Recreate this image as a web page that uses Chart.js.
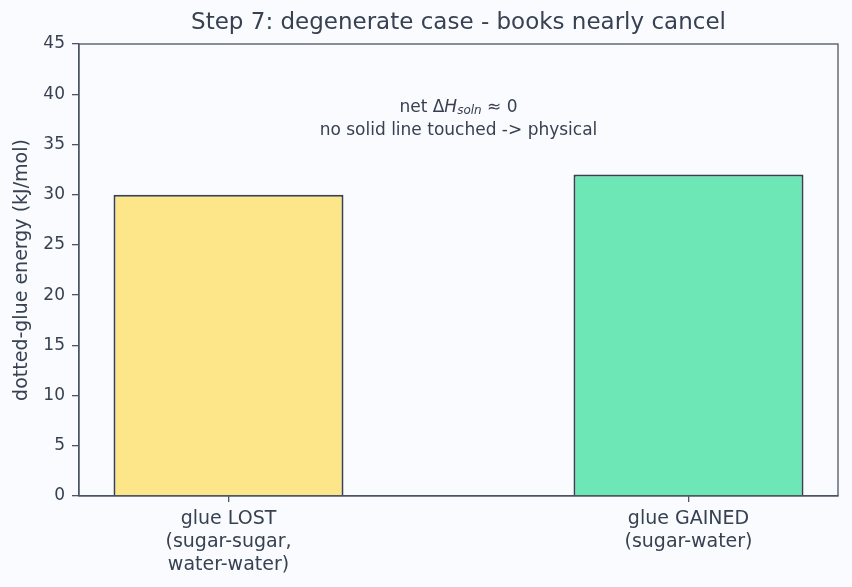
<!DOCTYPE html>
<html>
<head>
<meta charset="utf-8">
<script src="https://cdn.jsdelivr.net/npm/chart.js@4"></script>
<style>
  body { margin: 0; background: #fafbfe; }
  #wrap { width: 852px; height: 587px; }
</style>
</head>
<body>
<div id="wrap"><canvas id="chart_step7" width="852" height="587"></canvas></div>
<script>
// data
var categories = [["glue LOST", "(sugar-sugar,", "water-water)"], ["glue GAINED", "(sugar-water)"]];
var positions = [0, 1];
var energies = [30, 32];
var barColors = ["#fde68a", "#6ee7b7"];
var yTicks = [0, 5, 10, 15, 20, 25, 30, 35, 40, 45];
var titleText = "Step 7: degenerate case - books nearly cancel";

var textColor = "#374151";
var axisColor = "#4b5563";
var fontFamily = "'DejaVu Sans', sans-serif";

// frame round the plot, title over the plot, and the little note in the middle
var framePlugin = {
    id: "frameAndNote",
    afterDraw: function (chart) {
        var ctx = chart.ctx;
        var a = chart.chartArea;
        ctx.save();
        ctx.strokeStyle = axisColor;
        ctx.lineWidth = 1.3;
        ctx.strokeRect(a.left, a.top, a.right - a.left, a.bottom - a.top);

        var cx = (a.left + a.right) / 2;
        ctx.fillStyle = textColor;
        ctx.textBaseline = "middle";

        ctx.font = "23px " + fontFamily;
        ctx.textAlign = "center";
        ctx.fillText(titleText, cx, a.top - 21);

        var y1 = chart.scales.y.getPixelForValue(38.7);
        var y2 = chart.scales.y.getPixelForValue(36.4);

        // net ΔH_soln ≈ 0
        var parts = [
            { t: "net \u0394", f: "17px " + fontFamily, dy: 0 },
            { t: "H", f: "italic 17px " + fontFamily, dy: 0 },
            { t: "soln", f: "italic 12px " + fontFamily, dy: 4 },
            { t: " \u2248 0", f: "17px " + fontFamily, dy: 0 }
        ];
        var total = 0;
        parts.forEach(function (p) { ctx.font = p.f; p.w = ctx.measureText(p.t).width; total += p.w; });
        var x = cx - total / 2;
        ctx.textAlign = "left";
        parts.forEach(function (p) { ctx.font = p.f; ctx.fillText(p.t, x, y1 + p.dy); x += p.w; });

        ctx.font = "17px " + fontFamily;
        ctx.textAlign = "center";
        ctx.fillText("no solid line touched -> physical", cx, y2);
        ctx.restore();
    }
};

var ctxStep = document.getElementById("chart_step7").getContext("2d");
var chartStep = new Chart(ctxStep, {
    type: "bar",
    data: {
        datasets: [{
            data: positions.map(function (p, i) { return { x: p, y: energies[i] }; }),
            backgroundColor: barColors,
            borderColor: "#374151",
            borderWidth: 2,
            borderSkipped: "start",
            barPercentage: 0.5,
            categoryPercentage: 1.0
        }]
    },
    options: {
        responsive: false,
        animation: false,
        layout: { padding: { top: 44, right: 14, bottom: 0, left: 0 } },
        plugins: {
            legend: { display: false },
            tooltip: { enabled: false },
            title: { display: false }
        },
        scales: {
            x: {
                type: "linear",
                offset: false,
                min: -0.325,
                max: 1.325,
                afterBuildTicks: function (axis) {
                    axis.ticks = positions.map(function (p) { return { value: p }; });
                },
                afterFit: function (axis) { axis.height = 91; },
                ticks: {
                    color: textColor,
                    font: { family: fontFamily, size: 19 },
                    padding: 6,
                    maxRotation: 0,
                    autoSkip: false,
                    callback: function (v) { return categories[positions.indexOf(v)]; }
                },
                grid: { offset: false, drawOnChartArea: false, drawTicks: true, tickLength: 6, color: axisColor, lineWidth: 1.3 },
                border: { display: true, color: axisColor, width: 1.3 }
            },
            y: {
                min: 0,
                max: 45,
                afterBuildTicks: function (axis) {
                    axis.ticks = yTicks.map(function (v) { return { value: v }; });
                },
                afterFit: function (axis) { axis.width = 79; },
                ticks: {
                    color: textColor,
                    font: { family: fontFamily, size: 17 },
                    padding: 7
                },
                grid: { drawOnChartArea: false, drawTicks: true, tickLength: 7, color: axisColor, lineWidth: 1.3 },
                border: { display: true, color: axisColor, width: 1.3 },
                title: {
                    display: true,
                    text: "dotted-glue energy (kJ/mol)",
                    color: textColor,
                    font: { family: fontFamily, size: 19 },
                    padding: { top: 11, bottom: 0 }
                }
            }
        }
    },
    plugins: [framePlugin]
});
</script>
</body>
</html>
